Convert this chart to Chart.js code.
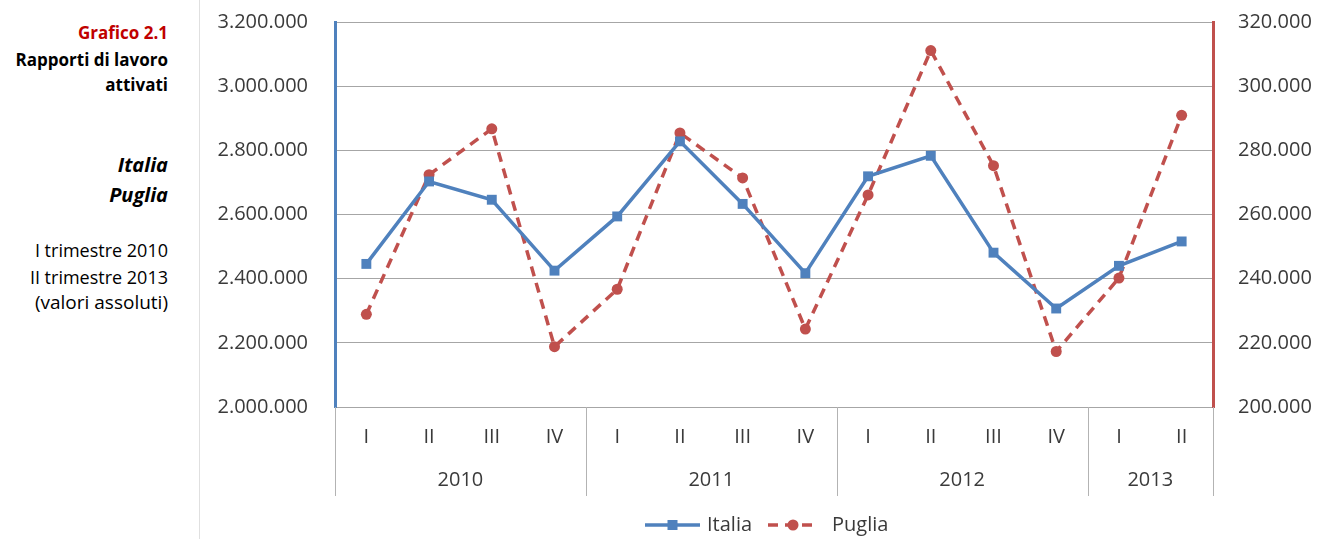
<!DOCTYPE html>
<html>
<head>
<meta charset="utf-8">
<script src="https://cdn.jsdelivr.net/npm/chart.js@4.4.1/dist/chart.umd.min.js"></script>
<style>
  html, body { margin: 0; padding: 0; background: #fff; }
  body { width: 1317px; height: 539px; position: relative; overflow: hidden; font-family: "Open Sans", sans-serif; }
  #side { position: absolute; left: 0; top: 0; width: 168px; height: 539px; }
  #side div { position: absolute; right: 0; white-space: nowrap; text-align: right; font-size: 18px; line-height: 26px; color: #000; }
  #side .b { font-weight: bold; font-size: 17px; }
  #side .red { color: #c00000; }
  #side .bi { font-weight: bold; font-style: italic; font-size: 20px; }
  #sep { position: absolute; left: 199px; top: 0; width: 1px; height: 539px; background: #e0e0e0; }
  #wrap { position: absolute; left: 200px; top: 0; width: 1117px; height: 539px; }
</style>
</head>
<body>
<div id="side">
  <div class="b red" style="top:20px">Grafico 2.1</div>
  <div class="b" style="top:47px">Rapporti di lavoro</div>
  <div class="b" style="top:72px">attivati</div>
  <div class="bi" style="top:152px">Italia</div>
  <div class="bi" style="top:182px">Puglia</div>
  <div style="top:237px">I trimestre 2010</div>
  <div style="top:264px">II trimestre 2013</div>
  <div style="top:289px; font-size:19px">(valori assoluti)</div>
</div>
<div id="sep"></div>
<div id="wrap"><canvas id="chart" width="1117" height="539"></canvas></div>
<script>
/* =========================
   DATA
========================= */
const quarters = ["I", "II", "III", "IV", "I", "II", "III", "IV", "I", "II", "III", "IV", "I", "II"];
const years = ["2010", "2011", "2012", "2013"];
const quartersPerYear = [4, 4, 4, 2];

// Italia - asse sinistro
const italia = [2446000, 2703000, 2646000, 2425000, 2594000, 2828000, 2633000,
                2417000, 2719000, 2783000, 2481000, 2307000, 2440000, 2516000];
// Puglia - asse destro
const puglia = [228900, 272400, 286700, 218800, 236700, 285400, 271400,
                224300, 266100, 311100, 275200, 217300, 240200, 290900];

const leftAxis = [2000000, 3200000, 200000];
const rightAxis = [200000, 320000, 20000];

/* =========================
   HELPERS
========================= */
const BLUE = "#4f81bd";
const RED = "#c0504d";
const FONT = "'Open Sans', sans-serif";
const TXT = "#3a3a3a";

function fmt(v) {
  return String(Math.round(v)).replace(/\B(?=(\d{3})+(?!\d))/g, ".");
}

// years row + group separators under the x axis
const yearRow = {
  id: "yearRow",
  afterDraw(chart) {
    const ctx = chart.ctx;
    const x = chart.scales.x;
    const half = (x.getPixelForValue(1) - x.getPixelForValue(0)) / 2;
    const top = chart.chartArea.bottom;
    ctx.save();
    ctx.strokeStyle = "#b3b3b3";
    ctx.lineWidth = 1;
    ctx.font = "20px " + FONT;
    ctx.fillStyle = TXT;
    ctx.textAlign = "center";
    ctx.textBaseline = "middle";
    let idx = 0;
    const edges = [x.getPixelForValue(0) - half];
    years.forEach((y, i) => {
      const start = x.getPixelForValue(idx) - half;
      idx += quartersPerYear[i];
      const end = x.getPixelForValue(idx - 1) + half;
      edges.push(end);
      ctx.fillText(y, (start + end) / 2, top + 73);
    });
    edges.forEach(e => {
      const px = Math.round(e) + 0.5;
      ctx.beginPath();
      ctx.moveTo(px, top);
      ctx.lineTo(px, top + 89);
      ctx.stroke();
    });
    ctx.restore();
  }
};

// legend with line + marker
const lineLegend = {
  id: "lineLegend",
  afterDraw(chart) {
    const ctx = chart.ctx;
    const a = chart.chartArea;
    const cx = (a.left + a.right) / 2;
    const y = 525;
    ctx.save();
    ctx.font = "20px " + FONT;
    ctx.textBaseline = "middle";
    ctx.lineWidth = 3.5;

    // Italia
    let x0 = cx - 129;
    ctx.strokeStyle = BLUE;
    ctx.beginPath(); ctx.moveTo(x0, y); ctx.lineTo(x0 + 55, y); ctx.stroke();
    ctx.fillStyle = BLUE;
    ctx.fillRect(x0 + 22.5, y - 5, 10, 10);
    ctx.fillStyle = TXT;
    ctx.fillText(chart.data.datasets[0].label, x0 + 62, y);

    // Puglia
    x0 = cx - 6;
    ctx.strokeStyle = RED;
    ctx.setLineDash([10, 7]);
    ctx.beginPath(); ctx.moveTo(x0, y); ctx.lineTo(x0 + 50, y); ctx.stroke();
    ctx.setLineDash([]);
    ctx.fillStyle = RED;
    ctx.beginPath(); ctx.arc(x0 + 25, y, 5.5, 0, Math.PI * 2); ctx.fill();
    ctx.fillStyle = TXT;
    ctx.fillText(chart.data.datasets[1].label, x0 + 64, y);
    ctx.restore();
  }
};

/* =========================
   CHART
========================= */
new Chart(document.getElementById("chart"), {
  type: "line",
  data: {
    labels: quarters,
    datasets: [
      {
        label: "Italia",
        data: italia,
        yAxisID: "y",
        borderColor: BLUE,
        backgroundColor: BLUE,
        borderWidth: 3.5,
        pointStyle: "rect",
        pointRadius: 7,
        pointBorderWidth: 0,
        tension: 0,
        order: 1
      },
      {
        label: "Puglia",
        data: puglia,
        yAxisID: "y1",
        borderColor: RED,
        backgroundColor: RED,
        borderWidth: 3.5,
        borderDash: [10, 7],
        pointStyle: "circle",
        pointRadius: 5.5,
        pointBorderWidth: 0,
        tension: 0,
        order: 2
      }
    ]
  },
  options: {
    responsive: false,
    animation: false,
    layout: { padding: { top: 22, left: 0, right: 0, bottom: 0 } },
    plugins: {
      legend: { display: false },
      tooltip: { enabled: false }
    },
    scales: {
      x: {
        offset: true,
        grid: { display: false, drawTicks: false },
        border: { color: "#a6a6a6", width: 1 },
        ticks: { color: TXT, font: { family: FONT, size: 20 }, padding: 18, maxRotation: 0, autoSkip: false },
        afterFit: s => { s.height = 132; }
      },
      y: {
        position: "left",
        min: leftAxis[0],
        max: leftAxis[1],
        ticks: { stepSize: leftAxis[2], color: TXT, font: { family: FONT, size: 20 }, padding: 27, callback: v => fmt(v) },
        grid: { color: "#a6a6a6", lineWidth: 1, drawTicks: false },
        border: { color: BLUE, width: 3 },
        afterFit: s => { s.width = 135; s.paddingTop = 0; s.paddingBottom = 0; }
      },
      y1: {
        position: "right",
        min: rightAxis[0],
        max: rightAxis[1],
        ticks: { stepSize: rightAxis[2], color: TXT, font: { family: FONT, size: 20 }, padding: 25, callback: v => fmt(v) },
        grid: { drawOnChartArea: false, drawTicks: false },
        border: { color: RED, width: 3 },
        afterFit: s => { s.width = 104; s.paddingTop = 0; s.paddingBottom = 0; }
      }
    }
  },
  plugins: [yearRow, lineLegend]
});
</script>
</body>
</html>
